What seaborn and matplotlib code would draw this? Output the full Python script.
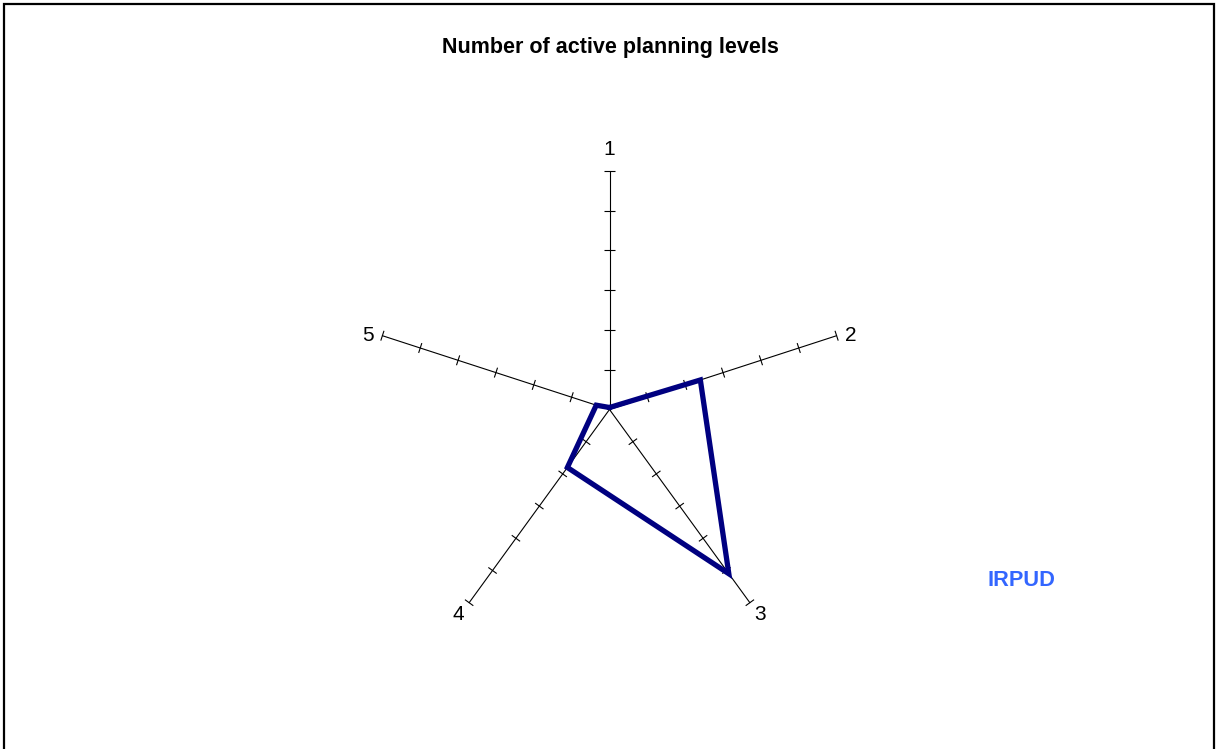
import numpy as np
import pandas as pd
import matplotlib
matplotlib.use("Agg")
import matplotlib.pyplot as plt
import seaborn as sns
from matplotlib.collections import LineCollection
from matplotlib.patches import Rectangle

# ---- data ----
categories = ["1", "2", "3", "4", "5"]
values = [0.05, 2.4, 5.1, 1.8, 0.35]
series_name = "IRPUD"
title = "Number of active planning levels"
r_max = 6
tick_values = [1, 2, 3, 4, 5, 6]

sns.set_theme(style="white")
plt.rcParams['font.family'] = ['Liberation Sans', 'DejaVu Sans']

W, H = 1216, 749
fig = plt.figure(figsize=(W / 100, H / 100), dpi=100)

# axes placed so center is at (609.5, 409.5) px, 39.8 px per unit
cx, cy, s = 609.5, 409.5, 39.8
x0, x1, y0, y1 = -8, 8, -6.5, 7
left = (cx + x0 * s) / W
width = (x1 - x0) * s / W
bottom = (H - (cy - y0 * s)) / H
height = (y1 - y0) * s / H
ax = fig.add_axes([left, bottom, width, height])
ax.set_xlim(x0, x1)
ax.set_ylim(y0, y1)
ax.set_aspect('equal')
ax.axis('off')

n = len(categories)
angles = np.array([np.pi / 2 - 2 * np.pi * i / n for i in range(n)])
ux, uy = np.cos(angles), np.sin(angles)

# spokes
for i in range(n):
    ax.plot([0, r_max * ux[i]], [0, r_max * uy[i]], color='black', lw=0.8, zorder=1)

# tick marks perpendicular to spokes
segs = []
hl = 0.13
for i in range(n):
    px, py = -uy[i], ux[i]
    for t in tick_values:
        bx, by = t * ux[i], t * uy[i]
        segs.append([(bx - hl * px, by - hl * py), (bx + hl * px, by + hl * py)])
ax.add_collection(LineCollection(segs, colors='black', linewidths=0.8, zorder=1))

# polygon
vals = np.array(values)
df = pd.DataFrame({
    "x": np.append(vals * ux, vals[0] * ux[0]),
    "y": np.append(vals * uy, vals[0] * uy[0]),
    "order": np.arange(n + 1),
})
sns.lineplot(data=df, x="x", y="y", sort=False, estimator=None, ax=ax,
             color='#000080', lw=3.8, zorder=3, solid_joinstyle='miter')

# category labels
for i, c in enumerate(categories):
    ex, ey = r_max * ux[i], r_max * uy[i]
    if i == 0:
        ax.text(ex, ey + 0.3, c, ha='center', va='bottom', fontsize=15, color='black')
    elif uy[i] > -0.5:
        ha = 'left' if ux[i] > 0 else 'right'
        dx = 0.22 if ux[i] > 0 else -0.22
        ax.text(ex + dx, ey, c, ha=ha, va='center', fontsize=15, color='black')
    else:
        ha = 'left' if ux[i] > 0 else 'right'
        dx = 0.12 if ux[i] > 0 else -0.12
        ax.text(ex + dx, ey - 0.05, c, ha=ha, va='top', fontsize=15, color='black')

fig.text(610 / W, 1 - 47 / H, title, ha='center', va='center',
         fontsize=15.5, fontweight='bold', color='black')
fig.text(1021.5 / W, 1 - 581 / H, series_name, ha='center', va='center',
         fontsize=15.7, fontweight='bold', color='#3366FF')

# figure border (no bottom edge visible)
fig.add_artist(Rectangle((4 / W, -0.05), (1214 - 4) / W, 1.05 - 4 / H,
                         transform=fig.transFigure, fill=False,
                         edgecolor='black', lw=1.6))

fig.savefig("out.png", dpi=100)
